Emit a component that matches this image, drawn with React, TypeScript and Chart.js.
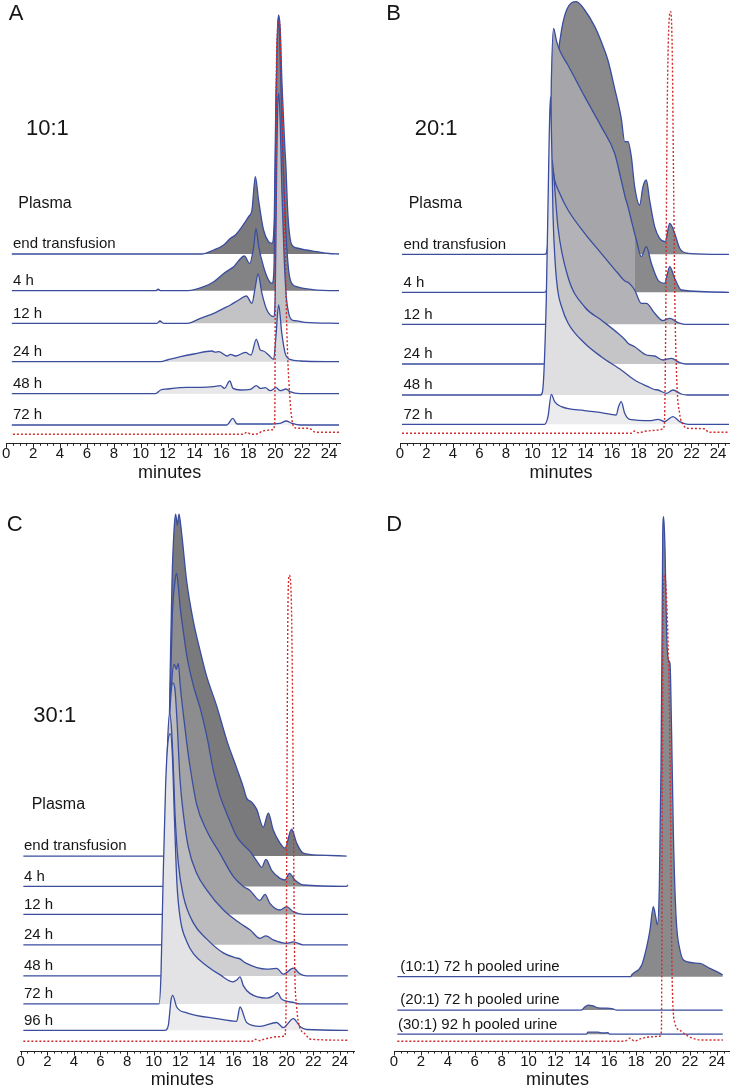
import React, { useEffect, useRef } from 'react';
import { Chart, registerables } from 'chart.js';
Chart.register(...registerables);

type P = [number, number][];

// ---------------- shared ----------------
const TICK_VALUES = [0, 2, 4, 6, 8, 10, 12, 14, 16, 18, 20, 22, 24];
const AXIS_TITLE = 'minutes';
const FONT = "'Liberation Sans', Arial, Helvetica, sans-serif";
const BLUE = '#3a4d9f';
const RED = '#d22b2b';
const TEXT = '#161616';

// ---------------- Panel A (10:1) ----------------
const A_LABELS = ['end transfusion', '4 h', '12 h', '24 h', '48 h', '72 h'];
const A_BASES = [189.3, 152.6, 120, 81.6, 49.6, 18.3];
const A_RED_BASE = 9;
const A_END: P = [[0.42,0],[14.5,0],[15.43,4],[16.17,9],[16.67,15.7],[17.04,19],[17.53,27.3],[18.02,37.3],[18.27,44],[18.52,77.3],[18.76,54],[19.13,24],[19.5,12.3],[19.76,10.7],[19.93,37],[20.04,150],[20.17,225],[20.25,239],[20.37,225],[20.5,170],[20.7,110],[20.8,85],[20.9,50],[21.0,28],[21.2,10],[21.6,6],[22.3,4],[23.1,2.3],[24.0,0.5],[24.74,0]];
const A_4H: P = [[0.42,0],[11.1,0],[11.3,1.5],[11.5,0],[13.5,0],[14.69,4],[15.43,9],[16.17,17.3],[16.62,21.3],[16.91,24],[17.28,30],[17.7,34.7],[18.1,27.3],[18.4,44],[18.57,62.3],[18.77,44],[19.13,24],[19.5,10.7],[19.76,7.3],[19.9,20],[20.0,120],[20.12,230],[20.22,272],[20.32,255],[20.45,190],[20.6,120],[20.75,70],[20.9,35],[21.05,15],[21.3,6],[21.6,4],[22.1,2.3],[24.0,0],[24.74,0]];
const A_12H: P = [[0.42,0],[11.2,0],[11.43,2.3],[11.7,0],[13.46,0],[14.44,5],[15.43,10],[16.17,15],[16.67,18.3],[17.28,23.3],[17.85,27.3],[18.27,20],[18.5,35],[18.72,49.3],[19.01,30],[19.38,13.3],[19.88,6.7],[20.0,30],[20.1,150],[20.2,222],[20.27,230],[20.37,200],[20.5,130],[20.65,70],[20.8,30],[21.0,10],[21.3,3],[21.6,2.5],[22.2,1],[24.74,0]];
const A_24H: P = [[0.42,0],[11.48,0],[11.98,1.7],[12.96,5],[13.95,7.7],[15.31,10.7],[15.55,9.5],[15.8,10],[16.42,5.7],[16.67,7.3],[17.04,5.7],[17.78,9.3],[18.2,6.7],[18.59,22.3],[18.89,11.7],[19.13,10.7],[19.51,6.7],[19.88,2.3],[20.05,25],[20.25,56.7],[20.49,28],[20.74,8.3],[21.1,2.3],[21.85,0.7],[24.74,0]];
const A_48H: P = [[0.42,0],[11.1,0],[11.48,3.7],[11.98,4.7],[13.46,6.3],[14.44,6.3],[15.43,7],[15.93,8],[16.22,5.3],[16.62,12.7],[16.86,5.3],[17.41,3.7],[18.15,4.3],[18.59,8],[18.89,5.3],[19.26,6],[19.63,3],[20.07,6],[20.37,3],[20.81,4.7],[21.1,2],[21.85,0],[24.74,0]];
const A_72H: P = [[0.42,0],[16.4,0],[16.54,1.7],[16.84,6.7],[17.16,1],[19.38,1],[20.37,1.7],[20.81,4],[21.24,1.7],[21.85,0],[24.74,0]];
const A_RED: P = [[0.5,0],[17.6,0],[17.9,2],[18.2,0],[18.7,0.5],[19.1,3.5],[19.8,4.5],[19.96,10],[20.02,200],[20.1,380],[20.3,414],[20.5,330],[20.7,210],[20.87,100],[21.1,34],[21.36,8],[21.6,6],[22.5,6],[23.0,2],[24.75,2]];

// ---------------- Panel B (20:1) ----------------
const B_LABELS = ['end transfusion', '4 h', '12 h', '24 h', '48 h', '72 h'];
const B_BASES = [189, 151, 119, 79.3, 48.3, 19];
const B_RED_BASE = 10;
const B_END: P = [[0.15,0],[10.87,0],[11.04,1],[11.3,40],[11.6,140],[11.9,195],[12.2,225],[12.6,245],[13.31,252.7],[13.94,244.3],[14.7,227.7],[15.19,212.7],[15.69,194.3],[16.2,166],[16.7,136],[16.96,112.7],[17.21,112.7],[17.46,97.7],[17.71,67.7],[18.09,49.3],[18.34,67.7],[18.59,74.3],[18.84,54.3],[19.22,27.7],[19.6,16],[20.02,12.7],[20.36,31],[20.73,21],[21.11,6],[21.74,1],[24.83,0]];
const B_4H: P = [[0.15,0],[10.87,0],[11.04,1.3],[11.29,92],[11.42,209],[11.59,264],[11.8,252],[12.05,242],[12.68,227],[13.94,195.7],[15.19,165.7],[16.2,139],[16.7,112],[17.0,95],[17.2,86],[17.46,72],[17.84,52.3],[18.21,35.7],[18.59,45.7],[18.97,29],[19.47,12.3],[19.97,9],[20.36,25.7],[20.73,14],[21.23,2.3],[24.83,0]];
const B_12H: P = [[0.15,0],[10.87,0],[11.04,1],[11.25,91],[11.42,154.3],[11.5,157.7],[11.67,144.3],[12.05,131],[12.68,114.3],[13.94,91],[15.19,71],[16.45,51],[17.0,43],[17.21,42],[17.71,34.3],[18.21,21],[18.59,21],[19.22,11],[19.84,3.7],[20.36,6],[20.98,1.7],[21.5,0],[24.83,0]];
const B_24H: P = [[0.15,0],[10.8,0],[10.95,1.3],[11.17,97.3],[11.37,197],[11.47,204],[11.67,177],[11.92,137],[12.68,87],[13.94,57],[15.19,44],[16.45,30.7],[17.0,24],[17.21,20.7],[17.71,17.3],[18.59,9],[19.22,8],[19.84,4],[20.48,5.7],[21.11,1.3],[21.6,0],[24.83,0]];
const B_48H: P = [[0.15,0],[10.6,0],[10.75,3],[11.04,95],[11.25,250],[11.35,298],[11.45,250],[11.55,180],[11.7,135],[11.9,105],[12.2,88],[12.68,72],[13.94,51.7],[15.19,38.3],[16.7,25],[17.71,15],[18.72,8.3],[19.2,5.5],[19.47,5],[20.1,1.7],[20.6,5],[21.23,1],[21.7,0],[24.83,0]];
const B_72H: P = [[0.15,0],[10.9,0],[11.17,7.7],[11.42,30],[11.67,22.7],[12.18,17.7],[13.94,13.7],[15.19,11.7],[16.32,9.3],[16.5,17.7],[16.7,22.7],[16.96,11],[17.33,5],[18.97,3.7],[19.47,5],[19.97,2.7],[20.6,7.7],[21.11,2.7],[21.74,0],[24.83,0]];
const B_RED: P = [[0.15,0],[17.46,0],[17.71,2.3],[18.0,0.5],[18.5,2],[19.3,3],[19.8,4],[19.95,8],[20.05,100],[20.15,300],[20.3,410],[20.43,421.7],[20.55,380],[20.65,250],[20.75,130],[20.9,50],[21.1,20],[21.4,8],[21.7,5],[23.0,4.5],[23.3,1],[24.8,1]];

// ---------------- Panel C (30:1) ----------------
const C_LABELS = ['end transfusion', '4 h', '12 h', '24 h', '48 h', '72 h', '96 h'];
const C_BASES = [194.9, 164.6, 136.6, 106.2, 75.1, 47.1, 20.7];
const C_RED_BASE = 9.8;
const C_END: P = [[0.2,0],[10.9,0],[11.07,56],[11.23,176],[11.38,276],[11.53,326],[11.65,342],[11.78,331],[11.9,342],[12.1,323],[12.48,275],[12.98,235],[13.48,206],[13.98,180],[14.74,150],[15.49,116],[16.24,88],[16.74,69],[16.99,58],[17.36,54],[17.74,47],[18.24,29],[18.62,43],[18.99,26],[19.5,13],[19.87,8],[20.37,27],[20.75,13],[21.25,3],[22.5,1],[24.51,0]];
const C_4H: P = [[0.2,0],[10.85,0],[11.0,40],[11.2,170],[11.4,270],[11.6,305],[11.72,313],[11.85,300],[12.0,278],[12.23,255],[12.5,230],[13.0,200],[13.5,178],[14.0,150],[14.5,115],[15.0,90],[15.49,73],[16.24,50],[16.86,40],[17.24,35],[17.87,23],[18.12,19],[18.44,27],[18.87,16],[19.5,8],[19.87,6.4],[20.2,13],[20.62,6.4],[21.25,1.4],[24.5,0],[24.6,1.5]];
const C_12H: P = [[0.2,0],[10.8,0],[10.95,40],[11.15,150],[11.35,230],[11.55,250],[11.7,245],[11.85,251],[12.0,228],[12.23,200],[12.5,170],[12.73,148],[13.23,110],[13.98,84],[14.98,61],[15.98,38],[16.74,28],[17.24,24],[17.99,14],[18.37,20],[18.74,11],[19.5,4.4],[20.0,7.7],[20.5,2.7],[21.25,0],[24.6,0]];
const C_24H: P = [[0.2,0],[10.7,0],[10.85,50],[11.05,170],[11.25,240],[11.45,262],[11.6,255],[11.75,225],[11.98,165],[12.23,131],[12.6,98],[13.23,71.5],[13.98,55],[15.23,35],[16.49,21.5],[17.24,15],[17.99,6.5],[18.44,9],[18.99,5],[20.0,1.5],[20.5,3],[21.25,0],[24.6,0]];
const C_48H: P = [[0.2,0],[10.55,0],[10.7,40],[10.9,160],[11.05,235],[11.2,262],[11.35,245],[11.5,200],[11.6,163],[11.85,113],[12.23,80],[12.98,53],[13.98,37],[15.23,23],[16.2,18],[16.49,17],[16.9,13],[18.5,6.7],[19.2,7.5],[19.37,6.7],[19.74,1.7],[20.5,7.7],[21.0,2],[21.5,0],[24.6,0]];
const C_72H: P = [[0.2,0],[10.4,0],[10.55,30],[10.7,120],[10.9,220],[11.1,265],[11.25,270],[11.4,250],[11.55,190],[11.75,120],[12.0,85],[12.5,62],[13.0,50],[14.0,38],[15.0,29],[15.98,22],[16.25,24],[16.49,27],[16.75,18],[17.24,10.5],[18.5,5.8],[19.0,8],[19.3,11.3],[19.6,5],[20.0,2.7],[20.5,1.5],[21.0,0],[24.6,0]];
const C_96H: P = [[0.2,0],[10.85,0],[11.1,5],[11.3,30],[11.43,35],[11.73,23.3],[12.48,17.5],[14.74,11.7],[16.24,9],[16.49,23.3],[16.99,7.8],[18.0,3.9],[19.24,7.8],[19.74,2.7],[20.5,11.7],[21.0,3.9],[21.5,0.8],[24.6,0]];
const C_RED: P = [[0.2,0],[17.4,0],[17.6,2],[18.0,0.5],[18.3,2],[18.6,3],[19.3,4.5],[19.85,5],[19.95,30],[20.02,250],[20.1,440],[20.2,466],[20.35,440],[20.45,330],[20.52,200],[20.6,80],[20.75,35],[20.9,18],[21.4,7],[21.8,2],[24.7,1]];

// ---------------- Panel D (urine) ----------------
const D_LABELS = ['(10:1) 72 h pooled urine', '(20:1) 72 h pooled urine', '(30:1) 92 h pooled urine'];
const D_BASES = [74.3, 40.9, 16.8];
const D_RED_BASE = 9.8;
const D_10: P = [[0.25,0],[17.6,0],[17.67,1.7],[18.42,11.7],[18.79,30],[19.03,46.7],[19.28,70],[19.45,60],[19.58,52],[19.73,93],[19.85,210],[19.93,343],[19.98,443],[20.05,460],[20.15,426.7],[20.27,343],[20.4,316.7],[20.52,313],[20.64,243],[20.77,143],[20.97,60],[21.26,26.7],[21.76,15],[22.75,13.3],[23.49,8.3],[24.24,3.3],[24.44,1.7]];
const D_20: P = [[0.25,0],[13.93,0],[14.18,3],[14.42,5],[14.79,4.3],[15.16,2.3],[15.78,2],[16.28,1.2],[16.53,0],[24.44,0]];
const D_30: P = [[0.25,0],[14.3,0],[14.42,2],[15.16,2],[15.5,1.2],[15.9,1.5],[16.03,0],[24.44,0]];
const D_RED: P = [[0.25,0],[17.15,0],[17.53,3],[17.9,0],[18.3,2.3],[19.1,4.3],[19.75,5],[19.88,10],[19.95,250],[20.0,420],[20.12,466],[20.27,441],[20.4,384],[20.5,310],[20.58,200],[20.64,100],[20.7,50],[20.87,18.7],[21.25,10.9],[21.87,5],[22.86,1.2],[24.45,1.2]];

// ---------------- layout / styling (not data) ----------------
interface TextItem { text: string; x: number; y: number; size: number; }
interface FillSplit { at: number; left: string; right: string; }
interface PanelSpec {
  left: number; top: number; width: number; height: number;
  padL: number; padR: number; padT: number; axisH: number;
  xmax: number; ymax: number;
  traces: P[]; bases: number[]; labels: string[]; fills: (string | FillSplit)[];
  red: P; redBase: number;
  labelX: number[];
  texts: TextItem[];
}

const PANELS: PanelSpec[] = [
  {
    left: 0, top: 0, width: 368, height: 490, padL: 5, padR: 27.5, padT: 5, axisH: 46.7,
    xmax: 24.85, ymax: 438.3,
    traces: [A_END, A_4H, A_12H, A_24H, A_48H, A_72H], bases: A_BASES, labels: A_LABELS,
    fills: ['#7b7b7d', '#838386', '#c3c3c6', '#dcdcdf', '#e8e8ea', '#f1f1f4'],
    red: A_RED, redBase: A_RED_BASE, labelX: [13, 13, 13, 13, 13, 13],
    texts: [
      { text: 'A', x: 8.7, y: 20, size: 22 },
      { text: '10:1', x: 26, y: 135, size: 22 },
      { text: 'Plasma', x: 18.3, y: 208.3, size: 16 },
    ],
  },
  {
    left: 368, top: 0, width: 368, height: 490, padL: 32, padR: 6.1, padT: 0, axisH: 46.7,
    xmax: 24.9, ymax: 443.3,
    traces: [B_END, B_4H, B_12H, B_24H, B_48H, B_72H], bases: B_BASES, labels: B_LABELS,
    fills: ['#89898c', { at: 17.7, left: '#a6a6aa', right: '#8a8a8d' }, '#b3b3b7', '#c5c5c8', '#dfdfe2', '#ececef'],
    red: B_RED, redBase: B_RED_BASE, labelX: [35.5, 35.5, 35.5, 35.5, 35.5, 35.5],
    texts: [
      { text: 'B', x: 18.3, y: 20, size: 22 },
      { text: '20:1', x: 46.7, y: 135, size: 22 },
      { text: 'Plasma', x: 40.7, y: 207.5, size: 16 },
    ],
  },
  {
    left: 0, top: 480, width: 368, height: 610, padL: 20.7, padR: 13.5, padT: 25, axisH: 39,
    xmax: 25.1, ymax: 546,
    traces: [C_END, C_4H, C_12H, C_24H, C_48H, C_72H, C_96H], bases: C_BASES, labels: C_LABELS,
    fills: ['#7a7a7d', '#8d8d90', '#a3a3a6', '#bcbcbf', '#cfcfd2', '#e3e3e6', '#ececef'],
    red: C_RED, redBase: C_RED_BASE, labelX: [24, 24, 24, 24, 24, 24, 24],
    texts: [
      { text: 'C', x: 6.7, y: 50.5, size: 22 },
      { text: '30:1', x: 33.3, y: 242, size: 22 },
      { text: 'Plasma', x: 31.7, y: 328.7, size: 16 },
    ],
  },
  {
    left: 368, top: 480, width: 368, height: 610, padL: 26, padR: 6.4, padT: 25, axisH: 39,
    xmax: 24.95, ymax: 546,
    traces: [D_10, D_20, D_30], bases: D_BASES, labels: D_LABELS,
    fills: ['#8a8a8c', '#8a8a8c', '#8a8a8c'],
    red: D_RED, redBase: D_RED_BASE, labelX: [32.3, 32.3, 30],
    texts: [{ text: 'D', x: 18.3, y: 50.5, size: 22 }],
  },
];

function fillColor(f: string | FillSplit) {
  if (typeof f === 'string') return f;
  return (ctx: any) => {
    const chart = ctx.chart;
    const area = chart.chartArea;
    const xs = chart.scales && chart.scales.x;
    if (!area || !xs) return f.left;
    const px = xs.getPixelForValue(f.at);
    const t = Math.min(1, Math.max(0, (px - area.left) / (area.right - area.left)));
    const g = chart.ctx.createLinearGradient(area.left, 0, area.right, 0);
    g.addColorStop(0, f.left);
    g.addColorStop(t, f.left);
    g.addColorStop(Math.min(1, t + 0.0001), f.right);
    g.addColorStop(1, f.right);
    return g;
  };
}

function makeChart(canvas: HTMLCanvasElement, spec: PanelSpec): Chart {
  const n = spec.traces.length;
  const datasets: any[] = spec.traces.map((pts, i) => ({
    data: pts.map(([x, h]) => ({ x, y: h + spec.bases[i] })),
    borderColor: BLUE,
    borderWidth: 1.3,
    backgroundColor: fillColor(spec.fills[i]),
    fill: { value: spec.bases[i] },
    pointRadius: 0,
    cubicInterpolationMode: 'monotone',
    order: n - i + 1,
  }));
  datasets.push({
    data: spec.red.map(([x, h]) => ({ x, y: h + spec.redBase })),
    borderColor: RED,
    borderWidth: 1.4,
    borderDash: [2, 2],
    fill: false,
    pointRadius: 0,
    cubicInterpolationMode: 'monotone',
    order: 0,
  });

  const textPlugin = {
    id: 'panelText',
    afterDraw(chart: any) {
      const ctx: CanvasRenderingContext2D = chart.ctx;
      const xs = chart.scales.x;
      const ys = chart.scales.y;
      ctx.save();
      ctx.strokeStyle = '#222';
      ctx.lineWidth = 1;
      for (let k = 0; k * 0.5 <= spec.xmax + 1e-9; k++) {
        const v = k * 0.5;
        const px = Math.round(xs.getPixelForValue(v)) + 0.5;
        const major = k % 4 === 0;
        ctx.beginPath();
        ctx.moveTo(px, xs.top);
        ctx.lineTo(px, xs.top + (major ? 4.5 : 2.5));
        ctx.stroke();
      }
      ctx.fillStyle = TEXT;
      ctx.textAlign = 'left';
      ctx.textBaseline = 'alphabetic';
      for (const t of spec.texts) {
        ctx.font = `${t.size}px ${FONT}`;
        ctx.fillText(t.text, t.x, t.y);
      }
      ctx.font = `15px ${FONT}`;
      spec.labels.forEach((lab, i) => {
        const y = ys.getPixelForValue(spec.bases[i]) - 5.7;
        ctx.fillText(lab, spec.labelX[i], y);
      });
      ctx.font = `18px ${FONT}`;
      ctx.textAlign = 'center';
      ctx.textBaseline = 'middle';
      ctx.fillText(AXIS_TITLE, xs.getPixelForValue(12.15), xs.top + 29.5);
      ctx.restore();
    },
  };

  return new Chart(canvas, {
    type: 'line',
    data: { datasets },
    options: {
      responsive: false,
      animation: false,
      devicePixelRatio: 1,
      events: [],
      layout: { padding: { left: spec.padL, right: spec.padR, top: spec.padT, bottom: 0 } },
      plugins: { legend: { display: false }, tooltip: { enabled: false }, title: { display: false } },
      scales: {
        x: {
          type: 'linear',
          min: 0,
          max: spec.xmax,
          afterBuildTicks: (s: any) => { s.ticks = TICK_VALUES.map((v) => ({ value: v })); },
          afterFit: (s: any) => { s.height = spec.axisH; },
          grid: { display: false, drawTicks: false },
          border: { display: true, color: '#222', width: 1 },
          ticks: {
            font: { family: FONT, size: 15 },
            color: TEXT,
            padding: 2,
            maxRotation: 0,
            autoSkip: false,
            callback: (v: any) => String(v),
          },
        },
        y: { type: 'linear', display: false, min: 0, max: spec.ymax },
      },
    } as any,
    plugins: [textPlugin],
  });
}

function Panel({ spec }: { spec: PanelSpec }) {
  const ref = useRef<HTMLCanvasElement>(null);
  useEffect(() => {
    if (!ref.current) return;
    const c = makeChart(ref.current, spec);
    return () => c.destroy();
  }, [spec]);
  return (
    <canvas
      ref={ref}
      width={spec.width}
      height={spec.height}
      style={{ position: 'absolute', left: spec.left, top: spec.top, width: spec.width, height: spec.height }}
    />
  );
}

export default function App() {
  return (
    <div style={{ position: 'absolute', left: 0, top: 0, width: 736, height: 1090, background: '#fff', overflow: 'hidden' }}>
      {PANELS.map((p, i) => (
        <Panel key={i} spec={p} />
      ))}
    </div>
  );
}
